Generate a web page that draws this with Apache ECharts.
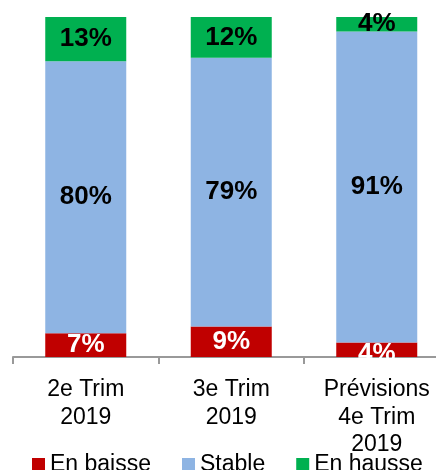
<!DOCTYPE html>
<html>
<head>
<meta charset="utf-8">
<script src="https://cdn.jsdelivr.net/npm/echarts@6/dist/echarts.min.js"></script>
<style>
  html, body { margin: 0; padding: 0; background: #fff; }
  #chart { width: 436px; height: 470px; }
</style>
</head>
<body>
<div id="chart"></div>
<script>
// categories (x axis)
var categories = ["2e Trim\n2019", "3e Trim\n2019", "Prévisions\n4e Trim\n2019"];
// series values (%)
var enBaisse = [7, 9, 4.3];
var stable = [80, 79, 91.4];
var enHausse = [13, 12, 4.3];

var font = "Liberation Sans, Arial, sans-serif";

var myChart = echarts.init(document.getElementById("chart"));

function pct(p) {
  return Math.round(p.value) + "%";
}

myChart.setOption({
  animation: false,
  grid: {
    top: 17,
    left: 13,
    right: -13.5,
    bottom: 113,
    containLabel: false,
    outerBoundsMode: "none",
  },
  legend: {
    top: 448,
    left: 27,
    itemWidth: 13,
    itemHeight: 13,
    itemGap: 31,
    icon: "rect",
    textStyle: {
      fontFamily: font,
      fontSize: 23,
      color: "#000",
    },
    data: ["En baisse", "Stable", "En hausse"],
  },
  xAxis: {
    type: "category",
    data: categories,
    axisLine: {
      lineStyle: { color: "#999", width: 2 },
    },
    axisTick: {
      show: true,
      length: 7,
      lineStyle: { color: "#999", width: 2 },
    },
    axisLabel: {
      interval: 0,
      margin: 19,
      fontFamily: font,
      fontSize: 23,
      lineHeight: 27.5,
      color: "#000",
    },
  },
  yAxis: {
    type: "value",
    min: 0,
    max: 100,
    show: false,
  },
  series: [
    {
      name: "En baisse",
      type: "bar",
      stack: "total",
      barWidth: 81,
      // last label sits a little low, half hidden under the axis
      data: enBaisse.map(function (v, i) {
        return i === 2 ? { value: v, label: { offset: [0, 4] } } : v;
      }),
      itemStyle: { color: "#C00000" },
      label: {
        show: true,
        position: "inside",
        formatter: pct,
        color: "#fff",
        fontFamily: font,
        fontWeight: "bold",
        fontSize: 26,
      },
    },
    {
      name: "Stable",
      type: "bar",
      stack: "total",
      barWidth: 81,
      data: stable,
      itemStyle: { color: "#8EB4E3" },
      label: {
        show: true,
        position: "inside",
        formatter: pct,
        color: "#000",
        fontFamily: font,
        fontWeight: "bold",
        fontSize: 26,
      },
    },
    {
      name: "En hausse",
      type: "bar",
      stack: "total",
      barWidth: 81,
      data: enHausse,
      itemStyle: { color: "#00B050" },
      label: {
        show: true,
        position: "inside",
        formatter: pct,
        color: "#000",
        fontFamily: font,
        fontWeight: "bold",
        fontSize: 26,
      },
    },
  ],
});
</script>
</body>
</html>
